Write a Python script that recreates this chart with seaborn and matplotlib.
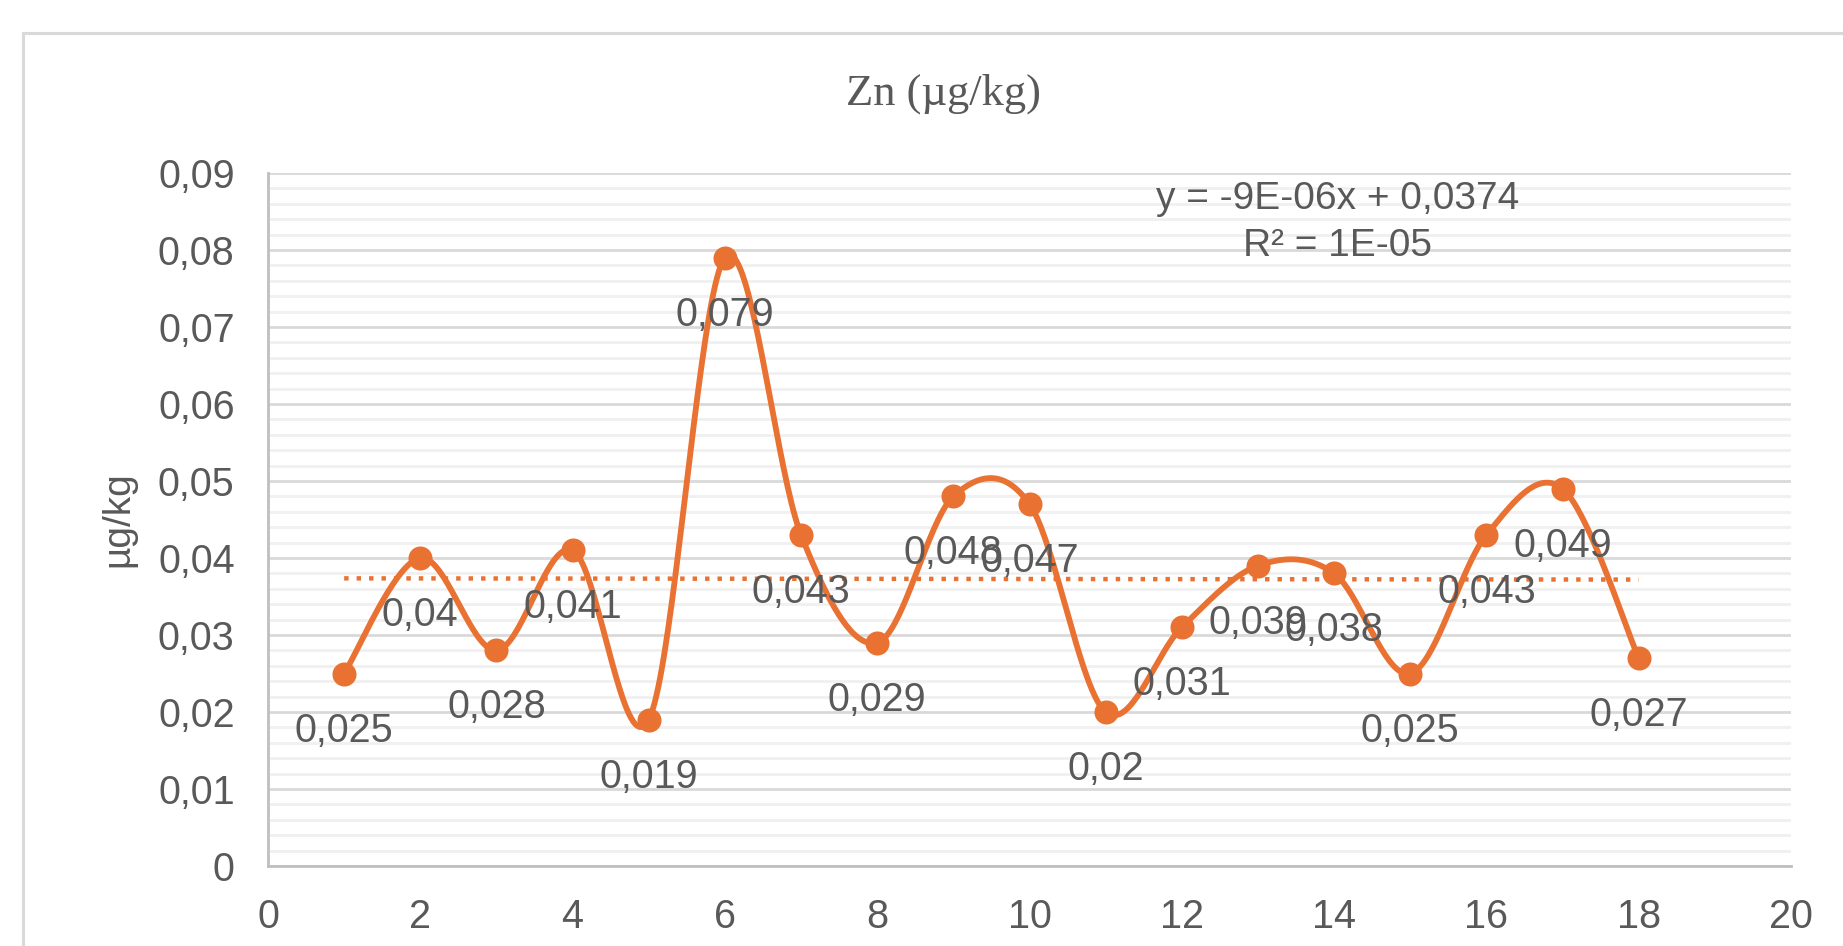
import numpy as np
import pandas as pd
import matplotlib
matplotlib.use("Agg")
import matplotlib.pyplot as plt
import seaborn as sns
from matplotlib.ticker import MultipleLocator, FuncFormatter
from matplotlib.patches import Rectangle

# ---- data ----
samples = [1, 2, 3, 4, 5, 6, 7, 8, 9, 10, 11, 12, 13, 14, 15, 16, 17, 18]
zn_values = [0.025, 0.04, 0.028, 0.041, 0.019, 0.079, 0.043, 0.029, 0.048,
             0.047, 0.02, 0.031, 0.039, 0.038, 0.025, 0.043, 0.049, 0.027]
x_ticks = [0, 2, 4, 6, 8, 10, 12, 14, 16, 18, 20]
y_ticks = [0, 0.01, 0.02, 0.03, 0.04, 0.05, 0.06, 0.07, 0.08, 0.09]
title_text = "Zn (µg/kg)"
ylabel_text = "µg/kg"
equation_text = "y = -9E-06x + 0,0374"
r2_text = "R² = 1E-05"

ORANGE = "#E97132"
TXT = "#595959"

sns.set_theme(style="white")
plt.rcParams["font.family"] = ["Liberation Sans", "DejaVu Sans"]

df = pd.DataFrame({"x": samples, "y": zn_values})


def smooth_curve(x, y, n=40):
    P = np.column_stack([x, y]).astype(float)
    xs, ys = [], []
    m = len(P)
    for i in range(m - 1):
        p0 = P[i - 1] if i > 0 else P[i]
        p1 = P[i]
        p2 = P[i + 1]
        p3 = P[i + 2] if i + 2 < m else P[i + 1]
        c1 = p1 + (p2 - p0) / 6.0
        c2 = p2 - (p3 - p1) / 6.0
        t = np.linspace(0, 1, n)[:, None]
        b = ((1 - t) ** 3) * p1 + 3 * ((1 - t) ** 2) * t * c1 + 3 * (1 - t) * t ** 2 * c2 + t ** 3 * p2
        xs.extend(b[:, 0]); ys.extend(b[:, 1])
    return pd.DataFrame({"x": xs, "y": ys})


W, H = 1843, 946
fig = plt.figure(figsize=(W / 100, H / 100), dpi=100)
fig.patch.set_facecolor("white")

# chart border (extends beyond image on right/bottom)
fig.patches.append(Rectangle((23 / W, -0.2), 2.0, 1.2 - 33 / H, transform=fig.transFigure,
                             fill=False, edgecolor="#D9D9D9", linewidth=2.2, zorder=0))

left, right, top, bottom = 268, 1791, 173, 866
ax = fig.add_axes([left / W, 1 - bottom / H, (right - left) / W, (bottom - top) / H])

# grid
ax.set_xlim(0, 20)
ax.set_ylim(0, 0.09)
ax.set_yticks(y_ticks)
ax.set_xticks(x_ticks)
ax.yaxis.set_minor_locator(MultipleLocator(0.002))
ax.grid(axis="y", which="major", color="#D9D9D9", linewidth=2.0, zorder=0)
ax.grid(axis="y", which="minor", color="#F0F0F0", linewidth=2.0, zorder=0)
ax.grid(axis="x", which="both", visible=False)
ax.set_axisbelow(True)

# smooth line
curve = smooth_curve(df["x"].values, df["y"].values)
sns.lineplot(data=curve, x="x", y="y", sort=False, estimator=None, ax=ax,
             color=ORANGE, linewidth=4.2, zorder=3)
# markers
sns.scatterplot(data=df, x="x", y="y", ax=ax, color=ORANGE, s=300,
                edgecolor=ORANGE, linewidth=0, zorder=4)

# linear trend line
coef = np.polyfit(df["x"], df["y"], 1)
tx = np.array([min(samples), max(samples)])
ax.plot(tx, np.polyval(coef, tx), color=ORANGE, linewidth=3.2,
        linestyle=(0, (1.0, 1.8)), zorder=2)

# data labels
for xv, yv in zip(samples, zn_values):
    ax.annotate(f"{yv:g}".replace(".", ","), (xv, yv), xytext=(0, -57),
                textcoords="offset pixels", ha="center", va="center",
                fontsize=28.5, color=TXT, zorder=5)

# trend equation
ax.text(0.702, 0.962, equation_text, transform=ax.transAxes, ha="center", va="center",
        fontsize=28, color=TXT)
ax.text(0.702, 0.894, r2_text, transform=ax.transAxes, ha="center", va="center",
        fontsize=28, color=TXT)

# axes styling
for s in ["top", "right"]:
    ax.spines[s].set_visible(False)
for s in ["left", "bottom"]:
    ax.spines[s].set_color("#BFBFBF")
    ax.spines[s].set_linewidth(2.0)
ax.tick_params(axis="both", which="major", direction="out", length=7, width=2.0,
               color="#BFBFBF", labelsize=28.5, labelcolor=TXT)
ax.tick_params(axis="y", which="major", pad=17)
ax.tick_params(axis="x", which="major", pad=16)
ax.tick_params(which="minor", length=0)
ax.yaxis.set_major_formatter(FuncFormatter(lambda v, p: "0" if abs(v) < 1e-12 else f"{v:.2f}".replace(".", ",")))
ax.xaxis.set_major_formatter(FuncFormatter(lambda v, p: f"{v:g}"))

ax.set_xlabel("")
ax.set_ylabel(ylabel_text, fontsize=28, color=TXT)
ax.yaxis.set_label_coords((136 - left) / (right - left), 0.5)

fig.text(944 / W, 1 - 94 / H, title_text, ha="center", va="center",
         fontsize=32, color=TXT, family=["Liberation Serif", "DejaVu Serif"])

fig.savefig("out.png", dpi=100, facecolor="white")
